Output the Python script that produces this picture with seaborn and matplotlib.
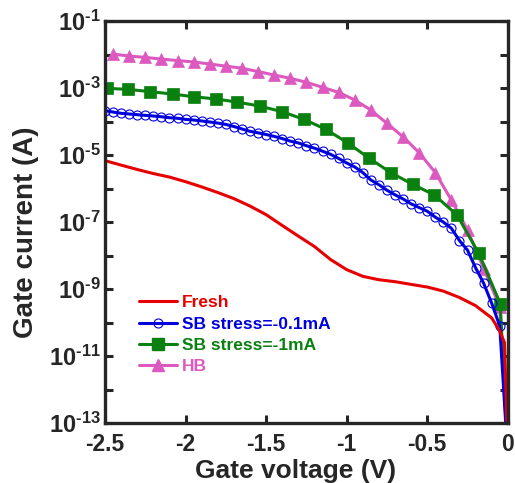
import numpy as np
import pandas as pd
import matplotlib
matplotlib.use('Agg')
import matplotlib.pyplot as plt
import seaborn as sns
from matplotlib.ticker import FixedLocator, FuncFormatter, NullFormatter
from matplotlib.lines import Line2D

# Fresh device
fresh_v = [-2.5, -2.4, -2.3, -2.2, -2.1, -2.0, -1.9, -1.8, -1.7, -1.6, -1.5, -1.4, -1.3,
           -1.2, -1.1, -1.0, -0.9, -0.8, -0.7, -0.6, -0.5, -0.4, -0.3, -0.2, -0.1,
           -0.05, -0.02, 0.0]
fresh_i = [6.8e-6, 5.0e-6, 3.7e-6, 2.8e-6, 2.2e-6, 1.6e-6, 1.12e-6, 7.6e-7, 5.0e-7, 3.0e-7,
           1.66e-7, 7.9e-8, 3.8e-8, 1.86e-8, 7.6e-9, 3.8e-9, 2.4e-9, 1.9e-9, 1.66e-9,
           1.38e-9, 1.15e-9, 8.7e-10, 5.6e-10, 3.2e-10, 1.38e-10, 5.6e-11, 2.5e-11, 1e-14]

# SB stress = -0.1mA
sb01_v = [-2.5, -2.45, -2.4, -2.35, -2.3, -2.25, -2.2, -2.15, -2.1, -2.05,
          -2.0, -1.95, -1.9, -1.85, -1.8, -1.75, -1.7, -1.65, -1.6, -1.55,
          -1.5, -1.45, -1.4, -1.35, -1.3, -1.25, -1.2, -1.15, -1.1, -1.05,
          -1.0, -0.95, -0.9, -0.85, -0.8, -0.75, -0.7, -0.65, -0.6, -0.55,
          -0.5, -0.45, -0.4, -0.35, -0.3, -0.25, -0.2, -0.15, -0.1, -0.05, 0.0]
sb01_i = [2.11e-4, 1.92e-4, 1.76e-4, 1.68e-4, 1.60e-4, 1.53e-4, 1.46e-4, 1.39e-4, 1.30e-4, 1.25e-4,
          1.16e-4, 1.11e-4, 1.04e-4, 9.7e-5, 9.0e-5, 8.2e-5, 7.1e-5, 6.0e-5, 5.1e-5, 4.6e-5,
          4.1e-5, 3.6e-5, 3.1e-5, 2.6e-5, 2.3e-5, 1.9e-5, 1.6e-5, 1.3e-5, 1.05e-5, 7.9e-6,
          5.8e-6, 4.4e-6, 3.0e-6, 1.8e-6, 1.3e-6, 8.9e-7, 6.5e-7, 4.9e-7, 3.5e-7, 2.7e-7,
          2.1e-7, 1.4e-7, 1.0e-7, 6.5e-8, 2.8e-8, 1.45e-8, 4.3e-9, 1.5e-9, 3.8e-10, 7.9e-11, 1e-14]

# SB stress = -1mA
sb1_v = [-2.49, -2.355, -2.22, -2.08, -1.95, -1.81, -1.68, -1.54, -1.40, -1.265,
         -1.13, -0.995, -0.86, -0.725, -0.59, -0.455, -0.315, -0.18, -0.047, 0.0]
sb1_i = [9.8e-4, 9.1e-4, 7.8e-4, 6.6e-4, 5.5e-4, 4.7e-4, 3.8e-4, 2.9e-4, 1.96e-4, 1.16e-4,
         5.85e-5, 2.33e-5, 8.0e-6, 2.96e-6, 1.33e-6, 6.4e-7, 1.62e-7, 1.16e-8, 3.7e-10, 1e-14]

# HB
hb_v = [-2.45, -2.35, -2.25, -2.15, -2.05, -1.95, -1.85, -1.75, -1.65, -1.55,
        -1.45, -1.35, -1.25, -1.15, -1.05, -0.95, -0.85, -0.75, -0.65, -0.55,
        -0.45, -0.35, -0.25, -0.15, -0.05, 0.0]
hb_i = [1.03e-2, 9.0e-3, 8.2e-3, 7.3e-3, 6.6e-3, 6.0e-3, 5.2e-3, 4.5e-3, 3.9e-3, 3.1e-3,
        2.44e-3, 1.95e-3, 1.48e-3, 1.05e-3, 7.4e-4, 4.4e-4, 2.2e-4, 8.8e-5, 3.5e-5, 1.17e-5,
        3.0e-6, 4.5e-7, 5.8e-8, 4.1e-9, 3.0e-10, 1e-14]

labels = ['Fresh', 'SB stress=-0.1mA', 'SB stress=-1mA', 'HB']
colors = ['#e60000', '#0000dc', '#0a800f', '#dc5ac0']
xticks = [-2.5, -2.0, -1.5, -1.0, -0.5, 0.0]
xtick_labels = ['-2.5', '-2', '-1.5', '-1', '-0.5', '0']
ymajor = [1e-13, 1e-11, 1e-9, 1e-7, 1e-5, 1e-3, 1e-1]
yminor = [1e-12, 1e-10, 1e-8, 1e-6, 1e-4, 1e-2]

sns.set_style('ticks')
plt.rcParams['font.family'] = ['Liberation Sans', 'DejaVu Sans']
plt.rcParams['font.weight'] = 'bold'
plt.rcParams['axes.unicode_minus'] = False
plt.rcParams['mathtext.fontset'] = 'custom'
plt.rcParams['mathtext.rm'] = 'Liberation Sans:bold'
plt.rcParams['mathtext.bf'] = 'Liberation Sans:bold'

fig, ax = plt.subplots(figsize=(5.15, 4.83), dpi=100)
fig.subplots_adjust(left=0.204, right=0.986, bottom=0.124, top=0.9565)
ax.set_yscale('log')

hb = pd.DataFrame({'v': hb_v, 'i': hb_i})
sb1 = pd.DataFrame({'v': sb1_v, 'i': sb1_i})
sb01 = pd.DataFrame({'v': sb01_v, 'i': sb01_i})
fresh = pd.DataFrame({'v': fresh_v, 'i': fresh_i})

sns.lineplot(data=hb, x='v', y='i', ax=ax, color=colors[3], lw=2.2, marker='^', ms=8.5,
             mfc=colors[3], mec=colors[3], mew=0.5, markevery=list(range(len(hb) - 1)))
sns.lineplot(data=sb1, x='v', y='i', ax=ax, color=colors[2], lw=2.2, marker='s', ms=8,
             mfc=colors[2], mec=colors[2], mew=0.5, markevery=list(range(len(sb1) - 1)))
sns.lineplot(data=sb01, x='v', y='i', ax=ax, color=colors[1], lw=2.2, marker='o', ms=6.5,
             mfc='none', mec=colors[1], mew=0.8, markevery=list(range(len(sb01) - 1)))
sns.lineplot(data=fresh, x='v', y='i', ax=ax, color=colors[0], lw=2.2)

ax.set_xlim(-2.5, 0)
ax.set_ylim(1e-13, 1e-1)
ax.set_xticks(xticks)
ax.set_xticklabels(xtick_labels)
ax.yaxis.set_major_locator(FixedLocator(ymajor))
ax.yaxis.set_minor_locator(FixedLocator(yminor))
ax.yaxis.set_major_formatter(FuncFormatter(
    lambda v, p: '$\\mathbf{10^{\u2010%d}}$' % abs(round(np.log10(v)))))
ax.yaxis.set_minor_formatter(NullFormatter())

ax.tick_params(which='both', direction='in', length=6, width=2.2, top=True, right=True)
ax.tick_params(axis='x', labelsize=16.5, pad=7)
ax.tick_params(axis='y', labelsize=17, pad=3)
for s in ax.spines.values():
    s.set_linewidth(2.4)

ax.set_xlabel('Gate voltage (V)', fontsize=19, fontweight='bold')
ax.set_ylabel('Gate current (A)', fontsize=20, fontweight='bold')
ax.xaxis.set_label_coords(0.474, -0.09)
ax.yaxis.set_label_coords(-0.164, 0.475)

handles = [
    Line2D([], [], color=colors[0], lw=2.2),
    Line2D([], [], color=colors[1], lw=2.2, marker='o', ms=6.5, mfc='none', mec=colors[1], mew=0.8),
    Line2D([], [], color=colors[2], lw=2.2, marker='s', ms=8, mfc=colors[2], mec=colors[2]),
    Line2D([], [], color=colors[3], lw=2.2, marker='^', ms=8.5, mfc=colors[3], mec=colors[3]),
]
leg = ax.legend(handles, labels, loc='upper left', bbox_to_anchor=(0.084, 0.318), frameon=False,
                prop={'weight': 'bold', 'size': 12.5}, handlelength=2.2, handletextpad=0.3,
                labelspacing=0.35, borderpad=0, borderaxespad=0, numpoints=1)
for t, c in zip(leg.get_texts(), colors):
    t.set_color(c)

plt.savefig('out.png', dpi=100)
